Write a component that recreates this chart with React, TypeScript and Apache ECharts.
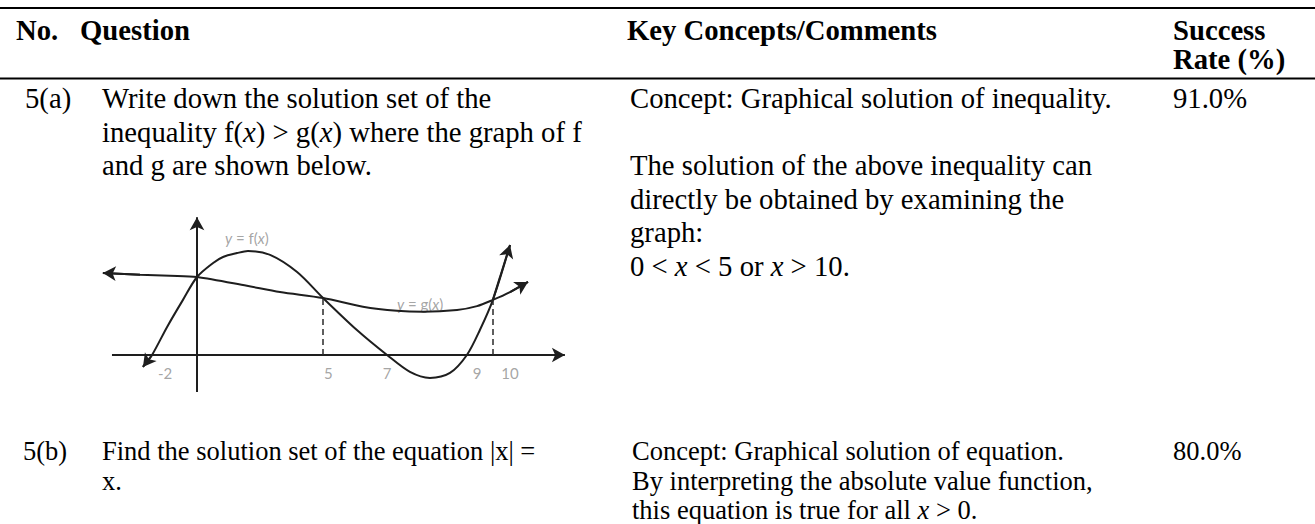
import React, { useEffect, useRef } from 'react';
import * as echarts from 'echarts';

// ---------- table content ----------
const headerCells = ['No.', 'Question', 'Key Concepts/Comments'];
const headerSuccess = ['Success', 'Rate (%)'];
const rowNumbers = ['5(a)', '5(b)'];
const successRates = ['91.0%', '80.0%'];
const questionA = [
  'Write down the solution set of the',
  'inequality f({i|x}) > g({i|x}) where the graph of f',
  'and g are shown below.',
];
const commentA = [
  'Concept: Graphical solution of inequality.',
  '',
  'The solution of the above inequality can',
  'directly be obtained by examining the',
  'graph:',
  '0 < {i|x} < 5 or {i|x} > 10.',
];
const questionB = ['Find the solution set of the equation |x| =', 'x.'];
const commentB = [
  'Concept: Graphical solution of equation.',
  'By interpreting the absolute value function,',
  'this equation is true for all {i|x} > 0.',
];

// ---------- sketch (graph) content, in sketch units ----------
const fCurve: [number, number][] = [
  [-2.08, -0.46], [-1.73, 0], [-1.15, 1.08], [-0.54, 2.12], [0, 3.0], [0.62, 3.54],
  [1.0, 3.77], [1.54, 3.92], [1.96, 4.0], [2.81, 3.85], [3.85, 3.19], [4.85, 2.19],
  [6.15, 0.96], [7.31, 0], [8.19, -0.65], [8.96, -0.88], [9.73, -0.69], [10.38, 0],
  [10.88, 0.96], [11.38, 2.12], [12.04, 4.23],
];
const gCurve: [number, number][] = [
  [-3.62, 3.15], [-2.19, 3.09], [-1.04, 3.05], [0, 3.0], [1.92, 2.66], [3.19, 2.42],
  [4.85, 2.19], [6.38, 1.86], [7.69, 1.7], [8.69, 1.66], [10.0, 1.73], [10.77, 1.88],
  [11.38, 2.12], [12.04, 2.42], [12.73, 2.81],
];
const xAxisSpan: [number, number] = [-3.27, 14.15];
const yAxisSpan: [number, number] = [-1.42, 5.3];
const tickLabels = ['-2', '5', '7', '9', '10'];
const tickPositions = [-1.23, 5.05, 7.31, 10.77, 12.04];
const dropLines: [number, number][] = [[4.85, 2.19], [11.38, 2.12]];
const curveLabels = ['{i|y} = f({i|x})', '{i|y} = g({i|x})'];
const curveLabelPoints: [number, number][] = [[1.92, 4.5], [8.58, 1.97]];

// ---------- styles / layout ----------
const SERIF = '"Liberation Serif", "Times New Roman", serif';
const SANS = 'Lato, "Open Sans", "DejaVu Sans", sans-serif';
const FS = 28.7;
const FS_B = 26.5;
const INK = '#000';
const SKETCH = '#1e1e1e';
const GRAY = '#8e8e8e';

function textBlock(
  x: number,
  yFirstCenter: number,
  lineHeight: number,
  lines: string[],
  bold = false,
  fontSize = FS
) {
  const weight = bold ? 'bold' : 'normal';
  return {
    type: 'text',
    x,
    y: yFirstCenter - lineHeight / 2,
    silent: true,
    style: {
      text: lines.join('\n'),
      fill: INK,
      fontFamily: SERIF,
      fontSize,
      fontWeight: weight,
      lineHeight,
      align: 'left',
      verticalAlign: 'top',
      textAlign: 'left',
      textVerticalAlign: 'top',
      rich: {
        i: {
          fontFamily: SERIF,
          fontSize,
          fontStyle: 'italic',
          fontWeight: weight,
          lineHeight,
          fill: INK,
          color: INK,
        },
      },
    },
  };
}

function seg(a: [number, number], b: [number, number]) {
  return [{ coord: a }, { coord: b }];
}

export default function App() {
  const ref = useRef<HTMLDivElement>(null);
  useEffect(() => {
    if (!ref.current) return;
    const chart = echarts.init(ref.current, undefined, { renderer: 'svg' });

    const graphics: any[] = [
      { type: 'line', silent: true, shape: { x1: 0, y1: 8, x2: 1315, y2: 8 }, style: { stroke: INK, lineWidth: 2 } },
      { type: 'line', silent: true, shape: { x1: 0, y1: 78.5, x2: 1315, y2: 78.5 }, style: { stroke: INK, lineWidth: 2 } },
      textBlock(16, 30, 29, [headerCells[0]], true),
      textBlock(80, 30, 29, [headerCells[1]], true),
      textBlock(627, 30, 29, [headerCells[2]], true),
      textBlock(1173, 30, 29, headerSuccess, true),
      textBlock(25, 98, 33.5, [rowNumbers[0]]),
      textBlock(1173, 98, 33.5, [successRates[0]]),
      textBlock(102, 98, 33.5, questionA),
      textBlock(630, 98, 33.5, commentA),
      textBlock(23, 451, 29.5, [rowNumbers[1]], false, FS_B),
      textBlock(1173, 451, 29.5, [successRates[1]], false, FS_B),
      textBlock(102, 451, 29.5, questionB, false, FS_B),
      textBlock(632, 451, 29.5, commentB, false, FS_B),
    ];

    const arrowMark = (pairs: any[]) => ({
      silent: true,
      symbol: ['none', 'arrow'],
      symbolSize: [11, 13],
      label: { show: false },
      emphasis: { disabled: true },
      lineStyle: { color: SKETCH, width: 2, type: 'solid' },
      data: pairs,
    });

    const n = fCurve.length;
    const m = gCurve.length;

    const option: any = {
      animation: false,
      backgroundColor: '#fff',
      graphic: graphics,
      grid: { left: 100.8, top: 215.9, width: 465.4, height: 176.8, containLabel: false },
      xAxis: { type: 'value', min: -3.7, max: 14.2, show: false },
      yAxis: { type: 'value', min: -1.45, max: 5.35, show: false },
      series: [
        {
          type: 'line',
          name: 'f',
          data: fCurve,
          smooth: 0.3,
          symbol: 'none',
          clip: false,
          silent: true,
          lineStyle: { color: SKETCH, width: 2 },
          markLine: arrowMark([seg(fCurve[1], fCurve[0]), seg(fCurve[n - 2], fCurve[n - 1])]),
        },
        {
          type: 'line',
          name: 'g',
          data: gCurve,
          smooth: 0.3,
          symbol: 'none',
          clip: false,
          silent: true,
          lineStyle: { color: SKETCH, width: 2 },
          markLine: arrowMark([seg(gCurve[1], gCurve[0]), seg(gCurve[m - 2], gCurve[m - 1])]),
        },
        {
          type: 'scatter',
          name: 'ticks',
          silent: true,
          symbolSize: 0,
          data: tickPositions.map((x, i) => ({ name: tickLabels[i], value: [x, 0] })),
          label: {
            show: true,
            position: 'inside',
            offset: [0, 18],
            formatter: (p: any) => p.name,
            color: GRAY,
            fontFamily: SANS,
            fontSize: 15,
          },
          markLine: arrowMark([
            seg([xAxisSpan[0], 0], [xAxisSpan[1], 0]),
            seg([0, yAxisSpan[0]], [0, yAxisSpan[1]]),
          ]),
        },
        {
          type: 'scatter',
          name: 'drops',
          silent: true,
          symbolSize: 0,
          data: dropLines,
          markLine: {
            silent: true,
            symbol: ['none', 'none'],
            label: { show: false },
            emphasis: { disabled: true },
            lineStyle: { color: '#2a2a2a', width: 1.5, type: [6, 4] },
            data: dropLines.map((p) => seg([p[0], 0], p)),
          },
        },
        {
          type: 'scatter',
          name: 'curveLabels',
          silent: true,
          symbolSize: 0,
          data: curveLabelPoints.map((p, i) => ({ name: curveLabels[i], value: p })),
          label: {
            show: true,
            position: 'inside',
            formatter: (p: any) => p.name,
            color: GRAY,
            fontFamily: SANS,
            fontSize: 15,
            rich: {
              i: { color: GRAY, fontFamily: SANS, fontSize: 15, fontStyle: 'italic' },
            },
          },
        },
      ],
    };
    chart.setOption(option);
    return () => chart.dispose();
  }, []);

  return (
    <div
      ref={ref}
      style={{ position: 'absolute', left: 0, top: 0, width: 1315, height: 524, background: '#fff' }}
    />
  );
}
